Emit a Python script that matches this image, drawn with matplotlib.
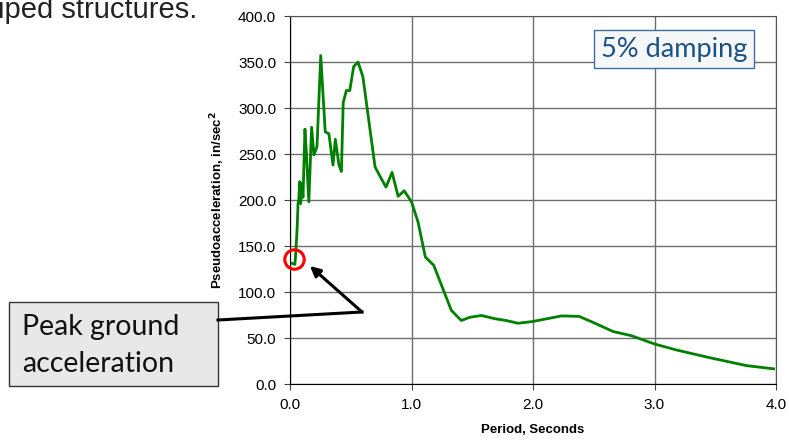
import matplotlib.pyplot as plt
from matplotlib.patches import FancyBboxPatch

# -----------------------------
# Data
# -----------------------------

period = [0.02, 0.04, 0.045, 0.055, 0.06, 0.066, 0.072, 0.08, 0.088, 0.096,
          0.107, 0.123, 0.135, 0.155, 0.178, 0.197, 0.222, 0.253, 0.29, 0.32,
          0.354, 0.373, 0.403, 0.423, 0.438, 0.464, 0.492, 0.524, 0.56, 0.6,
          0.7, 0.74, 0.79, 0.84, 0.89, 0.94, 1.0, 1.054, 1.114, 1.183,
          1.328, 1.41, 1.48, 1.575, 1.685, 1.78, 1.877, 2.0, 2.234, 2.38,
          2.494, 2.66, 2.81, 3.0, 3.18, 3.454, 3.756, 3.98]
pseudo_acc = [131, 130, 138, 160, 173, 196, 200, 220, 196, 218,
              203, 277, 250, 198, 279, 249, 258, 357, 274, 272,
              238, 266, 238, 231, 306, 319, 319, 345, 350, 334,
              236, 226, 214, 230, 204, 210, 198, 176, 138, 129,
              80, 69, 72.5, 74.5, 71, 69, 66, 68, 74, 73.5,
              67, 57, 52.5, 43.5, 37, 28.6, 20, 16.5]

x_ticks = [0.0, 1.0, 2.0, 3.0, 4.0]
y_ticks = [0, 50, 100, 150, 200, 250, 300, 350, 400]

pga_period = 0.03
pga_value = 136

# -----------------------------
# Figure
# -----------------------------

W, H = 789, 443
fig = plt.figure(figsize=(W / 100, H / 100), dpi=100)
ax = fig.add_axes([290 / W, 1 - 384 / H, 486 / W, 368 / H])

ax.plot(period, pseudo_acc, color="#008000", linewidth=2.0, zorder=3)

ax.set_xlim(0, 4)
ax.set_ylim(0, 400)
ax.set_xticks(x_ticks)
ax.set_yticks(y_ticks)
ax.set_xticklabels([f"{v:.1f}" for v in x_ticks], fontsize=11, family="Liberation Sans")
ax.set_yticklabels([f"{v:.1f}" for v in y_ticks], fontsize=11, family="Liberation Sans")
ax.tick_params(direction="out", length=4, width=0.8, color="#444444")
ax.tick_params(axis="y", pad=6)
ax.tick_params(axis="x", pad=6)

ax.grid(True, color="#6e6e6e", linewidth=1.0)
ax.set_axisbelow(True)
for side in ["top", "right"]:
    ax.spines[side].set_color("#555555")
for side in ["left", "bottom"]:
    ax.spines[side].set_color("black")

ax.set_xlabel("Period, Seconds", fontsize=9.5, fontweight="bold",
              family="Liberation Sans", labelpad=9)
ax.set_ylabel("Pseudoacceleration, in/sec$^{\\mathbf{2}}$", fontsize=9.5,
              fontweight="bold", family="Liberation Sans", labelpad=8)

# red circle around the PGA point
ax.plot([pga_period], [pga_value], marker="o", markersize=14,
        markerfacecolor="none", markeredgecolor="red", markeredgewidth=2.2,
        clip_on=False, zorder=4)

# 5% damping box
ax.text(674 / W, 1 - 49 / H, "5% damping", transform=fig.transFigure,
        fontsize=19.5, color="#1a5186", family="Lato", ha="center", va="center",
        bbox=dict(boxstyle="square,pad=0.25", facecolor="#f6f7f9",
                  edgecolor="#3b6f9e", linewidth=1.0), zorder=5)

# annotation lines and arrow (figure pixels)
fig.add_artist(plt.Line2D([218 / W, 362 / W], [1 - 320 / H, 1 - 312 / H],
                          transform=fig.transFigure, color="black", linewidth=2.2))
ax.annotate("", xy=(310 / W, 1 - 266 / H), xycoords="figure fraction",
            xytext=(362 / W, 1 - 312 / H), textcoords="figure fraction",
            arrowprops=dict(arrowstyle="-|>,head_length=0.6,head_width=0.3",
                            color="black", linewidth=2.2, shrinkA=0, shrinkB=0))

# Peak ground acceleration box
box = FancyBboxPatch((9 / W, 1 - 386 / H), 209 / W, 84 / H,
                     boxstyle="square,pad=0", transform=fig.transFigure,
                     facecolor="#e8e8e8", edgecolor="#333333", linewidth=1.0)
fig.add_artist(box)
fig.text(22 / W, 1 - 335 / H, "Peak ground", fontsize=20.5, family="Lato",
         va="baseline", ha="left", color="#111111")
fig.text(22 / W, 1 - 372 / H, "acceleration", fontsize=20.5, family="Lato",
         va="baseline", ha="left", color="#111111")

# cut-off slide text at top left
fig.text(-0.002, 1 - 18 / H, "iped structures.", fontsize=21,
         family="Liberation Sans", va="baseline", ha="left", color="#222222")

fig.savefig("out.png", dpi=100)
